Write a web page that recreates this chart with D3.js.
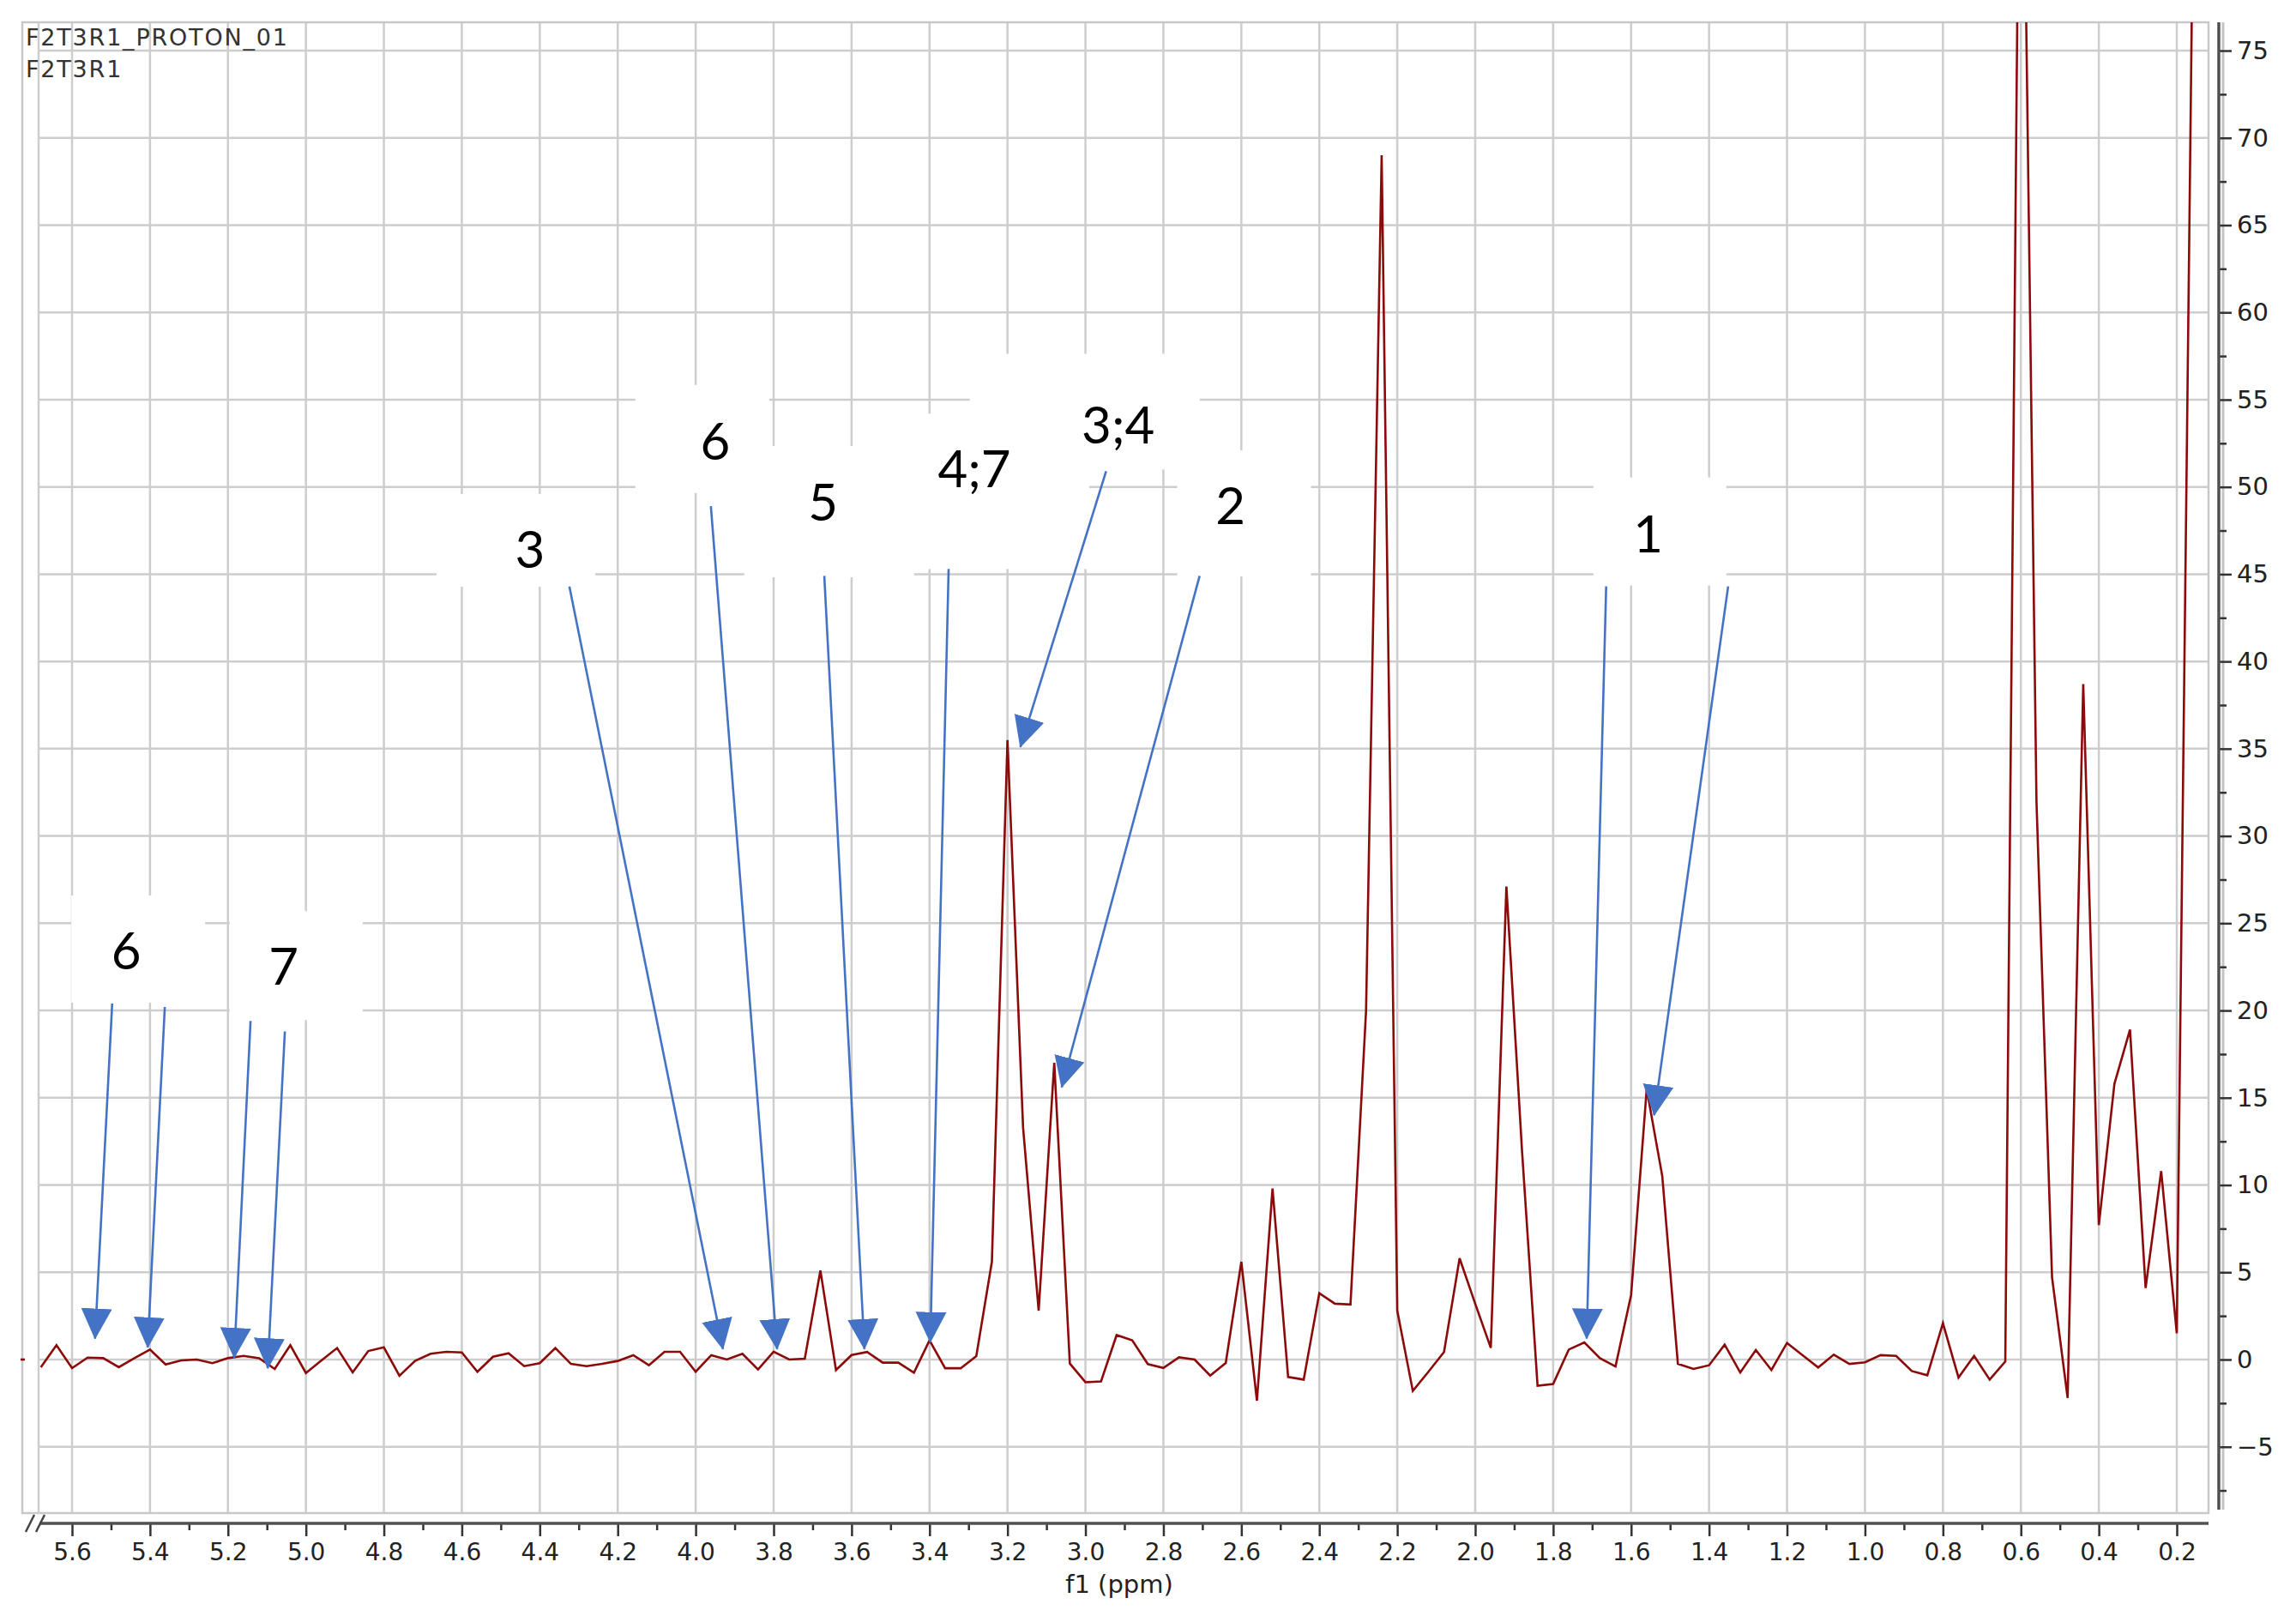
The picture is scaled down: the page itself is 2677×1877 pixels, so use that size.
<!DOCTYPE html>
<html>
<head>
<meta charset="utf-8">
<script src="https://cdn.jsdelivr.net/npm/d3@7"></script>
<style>
  body { margin: 0; background: #fff; }
  svg { display: block; }
</style>
</head>
<body>
<script>
// 1H spectrum, chemical shift (ppm) and intensity
var ppm = [5.68, 5.64, 5.60, 5.56, 5.52, 5.48, 5.44, 5.40, 5.36, 5.32, 5.28, 5.24, 5.20, 5.16, 5.12, 5.08,
  5.04, 5.00, 4.96, 4.92, 4.88, 4.84, 4.80, 4.76, 4.72, 4.68, 4.64, 4.60, 4.56, 4.52, 4.48, 4.44,
  4.40, 4.36, 4.32, 4.28, 4.24, 4.20, 4.16, 4.12, 4.08, 4.04, 4.00, 3.96, 3.92, 3.88, 3.84, 3.80,
  3.76, 3.72, 3.68, 3.64, 3.60, 3.56, 3.52, 3.48, 3.44, 3.40, 3.36, 3.32, 3.28, 3.24, 3.20, 3.16,
  3.12, 3.08, 3.04, 3.00, 2.96, 2.92, 2.88, 2.84, 2.80, 2.76, 2.72, 2.68, 2.64, 2.60, 2.56, 2.52,
  2.48, 2.44, 2.40, 2.36, 2.32, 2.28, 2.24, 2.20, 2.16, 2.12, 2.08, 2.04, 2.00, 1.96, 1.92, 1.88,
  1.84, 1.80, 1.76, 1.72, 1.68, 1.64, 1.60, 1.56, 1.52, 1.48, 1.44, 1.40, 1.36, 1.32, 1.28, 1.24,
  1.20, 1.16, 1.12, 1.08, 1.04, 1.00, 0.96, 0.92, 0.88, 0.84, 0.80, 0.76, 0.72, 0.68, 0.64, 0.60,
  0.56, 0.52, 0.48, 0.44, 0.40, 0.36, 0.32, 0.28, 0.24, 0.20, 0.16];
var intensity = [-0.44, 0.82, -0.49, 0.11, 0.08, -0.44, 0.08, 0.57, -0.28, -0.05, 0.0, -0.21, 0.08, 0.21, 0.08, -0.54,
  0.82, -0.77, -0.05, 0.66, -0.74, 0.49, 0.70, -0.93, -0.08, 0.33, 0.44, 0.41, -0.70, 0.16, 0.36, -0.38,
  -0.21, 0.66, -0.25, -0.38, -0.25, -0.08, 0.25, -0.33, 0.44, 0.44, -0.70, 0.25, 0.0, 0.33, -0.57, 0.45,
  0.0, 0.05, 5.1, -0.6, 0.26, 0.43, -0.18, -0.18, -0.75, 1.1, -0.5, -0.5, 0.2, 5.6, 35.5, 13.3,
  2.8, 17.0, -0.23, -1.3, -1.25, 1.4, 1.1, -0.26, -0.48, 0.13, 0.0, -0.92, -0.2, 5.6, -2.36, 9.8,
  -1.0, -1.15, 3.8, 3.2, 3.15, 20, 69, 2.8, -1.8, -0.7, 0.43, 5.8, 3.2, 0.67, 27.1, 12,
  -1.5, -1.4, 0.57, 0.98, 0.08, -0.4, 3.7, 15.5, 10.5, -0.25, -0.54, -0.33, 0.85, -0.74, 0.54, -0.6,
  0.95, 0.25, -0.46, 0.28, -0.25, -0.16, 0.25, 0.21, -0.66, -0.9, 2.08, -1.03, 0.21, -1.15, -0.11, 100,
  32, 4.7, -2.2, 38.7, 7.7, 15.8, 18.9, 4.1, 10.8, 1.5, 80];

// axis ticks
var xTicks = [5.6, 5.4, 5.2, 5.0, 4.8, 4.6, 4.4, 4.2, 4.0, 3.8, 3.6, 3.4, 3.2, 3.0, 2.8, 2.6, 2.4, 2.2,
  2.0, 1.8, 1.6, 1.4, 1.2, 1.0, 0.8, 0.6, 0.4, 0.2];
var xMinor = [5.5, 5.3, 5.1, 4.9, 4.7, 4.5, 4.3, 4.1, 3.9, 3.7, 3.5, 3.3, 3.1, 2.9, 2.7, 2.5, 2.3, 2.1,
  1.9, 1.7, 1.5, 1.3, 1.1, 0.9, 0.7, 0.5, 0.3];
var yTicks = [-5, 0, 5, 10, 15, 20, 25, 30, 35, 40, 45, 50, 55, 60, 65, 70, 75];
var yMinor = [-7.5, -2.5, 2.5, 7.5, 12.5, 17.5, 22.5, 27.5, 32.5, 37.5, 42.5, 47.5, 52.5, 57.5, 62.5, 67.5, 72.5];

// peak assignment labels (position in ppm / intensity)
var labelText = ["3", "6", "5", "4;7", "3;4", "2", "1", "6", "7"];
var labelPpm = [4.425, 3.95, 3.673, 3.285, 2.916, 2.628, 1.556, 5.461, 5.057];
var labelVal = [46.4, 52.6, 49.1, 51.0, 53.5, 48.9, 47.3, 23.4, 22.5];

// arrows from the labels to the peaks
var arrowFromPpm = [4.324, 3.961, 3.670, 3.351, 2.947, 2.707, 1.664, 1.351, 5.497, 5.362, 5.142, 5.054];
var arrowFromVal = [44.3, 48.9, 44.9, 45.3, 50.9, 44.9, 44.3, 44.3, 20.4, 20.2, 19.4, 18.8];
var arrowToPpm = [3.930, 3.791, 3.567, 3.398, 3.167, 3.061, 1.714, 1.541, 5.541, 5.406, 5.184, 5.098];
var arrowToVal = [0.6, 0.6, 0.6, 1.0, 35.1, 15.6, 1.2, 14.0, 1.2, 0.7, 0.1, -0.5];

var W = 2677, H = 1877;
var frameLeft = 26, innerLeft = 45, frameRight = 2575, frameTop = 26, frameBottom = 1764;

var svg = d3.select("body").append("svg")
  .attr("width", W)
  .attr("height", H);

var x = d3.scaleLinear().domain([5.6, 0.2]).range([84, 2538]);
var y = d3.scaleLinear().domain([0, 75]).range([1585, 59]);

// grid
var grid = svg.append("g").attr("stroke", "#cdcdcd").attr("stroke-width", 2.5);
grid.selectAll("line.v")
  .data(xTicks)
  .enter()
  .append("line")
  .attr("class", "v")
  .attr("x1", function(d) { return x(d); })
  .attr("x2", function(d) { return x(d); })
  .attr("y1", frameTop)
  .attr("y2", frameBottom);
grid.selectAll("line.h")
  .data(yTicks)
  .enter()
  .append("line")
  .attr("class", "h")
  .attr("x1", innerLeft)
  .attr("x2", frameRight)
  .attr("y1", function(d) { return y(d); })
  .attr("y2", function(d) { return y(d); });

// frame
svg.append("rect")
  .attr("x", frameLeft).attr("y", frameTop)
  .attr("width", frameRight - frameLeft).attr("height", frameBottom - frameTop)
  .attr("fill", "none").attr("stroke", "#c8c8c8").attr("stroke-width", 2.5);
svg.append("line")
  .attr("x1", innerLeft).attr("x2", innerLeft)
  .attr("y1", frameTop).attr("y2", frameBottom)
  .attr("stroke", "#cdcdcd").attr("stroke-width", 2.5);

// white label boxes (cover the grid)
var boxes = [[-109, -65, 185, 108], [-93, -66, 156, 126], [-92, -66, 198, 153], [-76, -65, 210, 181],
  [-173, -84, 268, 135], [-62, -65, 156, 147], [-64, -66, 155, 126], [-64, -65, 156, 125], [-63, -65, 155, 127]];
svg.append("g").selectAll("rect")
  .data(labelText)
  .enter()
  .append("rect")
  .attr("x", function(d, i) { return x(labelPpm[i]) + boxes[i][0]; })
  .attr("y", function(d, i) { return y(labelVal[i]) + boxes[i][1]; })
  .attr("width", function(d, i) { return boxes[i][2]; })
  .attr("height", function(d, i) { return boxes[i][3]; })
  .attr("fill", "#fff");

// spectrum
svg.append("defs").append("clipPath").attr("id", "plotclip")
  .append("rect")
  .attr("x", innerLeft).attr("y", frameTop)
  .attr("width", frameRight - innerLeft).attr("height", frameBottom - frameTop);

var line = d3.line()
  .x(function(d, i) { return x(ppm[i]); })
  .y(function(d) { return y(d); });

svg.append("path")
  .datum(intensity)
  .attr("d", line)
  .attr("clip-path", "url(#plotclip)")
  .attr("fill", "none")
  .attr("stroke", "#8b0a0a")
  .attr("stroke-width", 2.6)
  .attr("stroke-linejoin", "miter");

// little piece of trace left of the axis break
svg.append("line")
  .attr("x1", frameLeft - 2).attr("x2", frameLeft + 3)
  .attr("y1", y(0)).attr("y2", y(0))
  .attr("stroke", "#8b0a0a").attr("stroke-width", 2.6);

// arrows
svg.append("defs").append("marker")
  .attr("id", "head")
  .attr("markerUnits", "userSpaceOnUse")
  .attr("viewBox", "0 -19 36 38")
  .attr("markerWidth", 36)
  .attr("markerHeight", 38)
  .attr("refX", 35)
  .attr("refY", 0)
  .attr("orient", "auto")
  .append("path")
  .attr("d", "M0,-18L36,0L0,18Z")
  .attr("fill", "#4472c4");

svg.append("g").selectAll("line")
  .data(arrowFromPpm)
  .enter()
  .append("line")
  .attr("x1", function(d) { return x(d); })
  .attr("y1", function(d, i) { return y(arrowFromVal[i]); })
  .attr("x2", function(d, i) { return x(arrowToPpm[i]); })
  .attr("y2", function(d, i) { return y(arrowToVal[i]); })
  .attr("stroke", "#4472c4")
  .attr("stroke-width", 2.6)
  .attr("marker-end", "url(#head)");

// label text
svg.append("g").selectAll("text")
  .data(labelText)
  .enter()
  .append("text")
  .text(function(d) { return d; })
  .attr("x", function(d, i) { return x(labelPpm[i]); })
  .attr("y", function(d, i) { return y(labelVal[i]) + 21; })
  .attr("text-anchor", "middle")
  .attr("font-family", "Lato, 'Open Sans', sans-serif")
  .attr("font-size", "60px")
  .attr("fill", "#000");

// x axis
var axisY = 1776;
var xAxis = svg.append("g")
  .attr("transform", "translate(0," + axisY + ")")
  .call(d3.axisBottom(x).tickValues(xTicks).tickFormat(d3.format(".1f")).tickSize(15).tickSizeOuter(0).tickPadding(8));
svg.append("g")
  .attr("transform", "translate(0," + axisY + ")")
  .call(d3.axisBottom(x).tickValues(xMinor).tickFormat("").tickSize(8).tickSizeOuter(0))
  .select(".domain").remove();
xAxis.select(".domain").remove();
xAxis.selectAll("text")
  .attr("font-family", "'DejaVu Sans', Verdana, sans-serif")
  .attr("font-size", "28px")
  .attr("fill", "#222");
svg.append("line")
  .attr("x1", innerLeft + 1).attr("x2", frameRight)
  .attr("y1", axisY).attr("y2", axisY)
  .attr("stroke", "#505050").attr("stroke-width", 3.5);
// axis break marks
svg.append("g").attr("stroke", "#444").attr("stroke-width", 2.5)
  .selectAll("line")
  .data([0, 12])
  .enter()
  .append("line")
  .attr("x1", function(d) { return 30 + d; })
  .attr("x2", function(d) { return 40 + d; })
  .attr("y1", axisY + 10)
  .attr("y2", axisY - 10);

svg.append("text")
  .text("f1 (ppm)")
  .attr("x", 1305)
  .attr("y", 1857)
  .attr("text-anchor", "middle")
  .attr("font-family", "'DejaVu Sans', Verdana, sans-serif")
  .attr("font-size", "29px")
  .attr("fill", "#222");

// y axis on the right
var axisX = 2587;
svg.append("line")
  .attr("x1", axisX + 5).attr("x2", axisX + 5)
  .attr("y1", frameTop).attr("y2", frameBottom - 4)
  .attr("stroke", "#c4c4c4").attr("stroke-width", 3);
var yAxis = svg.append("g")
  .attr("transform", "translate(" + axisX + ",0)")
  .call(d3.axisRight(y).tickValues(yTicks).tickFormat(d3.format("d")).tickSize(15).tickSizeOuter(0).tickPadding(6));
var yMin = svg.append("g")
  .attr("transform", "translate(" + axisX + ",0)")
  .call(d3.axisRight(y).tickValues(yMinor).tickFormat("").tickSize(9).tickSizeOuter(0));
yAxis.select(".domain").remove();
yMin.select(".domain").remove();
yAxis.selectAll("text")
  .attr("font-family", "'DejaVu Sans', Verdana, sans-serif")
  .attr("font-size", "29px")
  .attr("fill", "#222");
svg.selectAll(".tick line").attr("stroke", "#333").attr("stroke-width", 2.5);
svg.append("line")
  .attr("x1", axisX).attr("x2", axisX)
  .attr("y1", frameTop).attr("y2", frameBottom - 4)
  .attr("stroke", "#505050").attr("stroke-width", 3.5);

// dataset names
svg.append("g").selectAll("text")
  .data(["F2T3R1_PROTON_01", "F2T3R1"])
  .enter()
  .append("text")
  .text(function(d) { return d; })
  .attr("x", 30)
  .attr("y", function(d, i) { return 53 + i * 37; })
  .attr("font-family", "'DejaVu Sans', Verdana, sans-serif")
  .attr("font-size", "27px")
  .attr("letter-spacing", "1.8px")
  .attr("fill", "#333");
</script>
</body>
</html>
